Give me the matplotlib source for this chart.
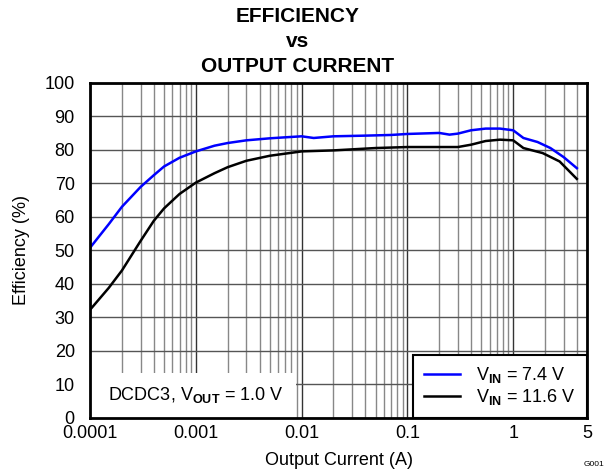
import matplotlib
matplotlib.use("Agg")
import matplotlib.pyplot as plt
from matplotlib.patches import Rectangle
from matplotlib.ticker import FixedLocator, LogLocator, NullFormatter

plt.rcParams["font.family"] = ["Liberation Sans", "DejaVu Sans"]
plt.rcParams["mathtext.fontset"] = "custom"
plt.rcParams["mathtext.rm"] = "Liberation Sans"
plt.rcParams["mathtext.bf"] = "Liberation Sans:bold"

# data
current_74 = [0.0001, 0.00015, 0.0002, 0.0003, 0.0004, 0.0005, 0.0007, 0.001, 0.0015,
              0.002, 0.003, 0.005, 0.007, 0.01, 0.013, 0.02, 0.04, 0.07, 0.1, 0.2, 0.25,
              0.3, 0.4, 0.55, 0.75, 1.0, 1.25, 1.7, 2.25, 3.0, 4.0]
eff_74 = [50.8, 57.8, 63.0, 68.9, 72.4, 75.0, 77.6, 79.5, 81.2, 82.0, 82.8, 83.4, 83.7,
          84.0, 83.5, 84.0, 84.2, 84.4, 84.7, 85.0, 84.5, 84.8, 85.8, 86.3, 86.3, 85.8,
          83.5, 82.3, 80.5, 77.8, 74.5]

current_116 = [0.0001, 0.00015, 0.0002, 0.0003, 0.0004, 0.0005, 0.0007, 0.001, 0.0015,
               0.002, 0.003, 0.005, 0.01, 0.02, 0.05, 0.1, 0.2, 0.3, 0.4, 0.55, 0.75,
               1.0, 1.25, 1.9, 2.75, 4.0]
eff_116 = [32.3, 38.8, 44.0, 52.8, 58.8, 62.5, 66.8, 70.2, 73.0, 74.8, 76.7, 78.2, 79.5,
           79.8, 80.5, 80.8, 80.8, 80.8, 81.5, 82.6, 83.0, 82.8, 80.5, 79.0, 76.5, 71.3]

x_ticks = [0.0001, 0.001, 0.01, 0.1, 1, 5]
x_tick_labels = ["0.0001", "0.001", "0.01", "0.1", "1", "5"]
y_ticks = list(range(0, 101, 10))

fig = plt.figure(figsize=(6.09, 4.75), dpi=100)
ax = fig.add_axes([0.148, 0.12, 0.816, 0.706])

ax.set_xscale("log")
ax.set_xlim(0.0001, 5)
ax.set_ylim(0, 100)
ax.xaxis.set_major_locator(FixedLocator(x_ticks))
ax.set_xticklabels(x_tick_labels)
ax.xaxis.set_minor_locator(LogLocator(base=10, subs=range(2, 10), numticks=20))
ax.xaxis.set_minor_formatter(NullFormatter())
ax.set_yticks(y_ticks)
ax.tick_params(which="both", length=0, labelsize=13)
ax.tick_params(axis="x", pad=5)
ax.tick_params(axis="y", pad=11)

ax.set_axisbelow(True)
ax.grid(which="major", axis="x", color="#333333", linewidth=1.0)
ax.grid(which="minor", axis="x", color="#888888", linewidth=1.0)
ax.grid(which="major", axis="y", color="#555555", linewidth=1.0)

for s in ax.spines.values():
    s.set_linewidth(2)

# white box behind the annotation, hides grid
ax.add_patch(Rectangle((0.0001, 0), 0.0088 - 0.0001, 13.4, facecolor="white",
                       edgecolor="none", zorder=1))
ax.text(0.000148, 6.9, r"DCDC3, V$_{\mathbf{OUT}}$ = 1.0 V", fontsize=13,
        va="center", ha="left", zorder=3)

ax.plot(current_74, eff_74, color="#0000ff", linewidth=1.8, label=r"V$_{\mathbf{IN}}$ = 7.4 V", zorder=2)
ax.plot(current_116, eff_116, color="black", linewidth=1.8, label=r"V$_{\mathbf{IN}}$ = 11.6 V", zorder=2)

leg = ax.legend(loc="lower right", fontsize=13, frameon=True, fancybox=False,
                borderaxespad=0, handlelength=2.0, handletextpad=0.9,
                labelspacing=0.1, borderpad=0.6)
leg.get_frame().set_edgecolor("black")
leg.get_frame().set_linewidth(1.5)
leg.get_frame().set_alpha(1)

ax.set_xlabel("Output Current (A)", fontsize=13, va="center")
ax.xaxis.set_label_coords(0.5, -0.128)
ax.set_ylabel("Efficiency (%)", fontsize=13, va="center")
ax.yaxis.set_label_coords(-0.139, 0.5)

fig.text(0.488, 0.954, "EFFICIENCY", ha="center", va="baseline", fontsize=15, fontweight="bold")
fig.text(0.488, 0.902, "vs", ha="center", va="baseline", fontsize=15, fontweight="bold")
fig.text(0.488, 0.849, "OUTPUT CURRENT", ha="center", va="baseline", fontsize=15, fontweight="bold")
fig.text(0.993, 0.015, "G001", ha="right", va="bottom", fontsize=6)

fig.savefig("out.png", dpi=100)
